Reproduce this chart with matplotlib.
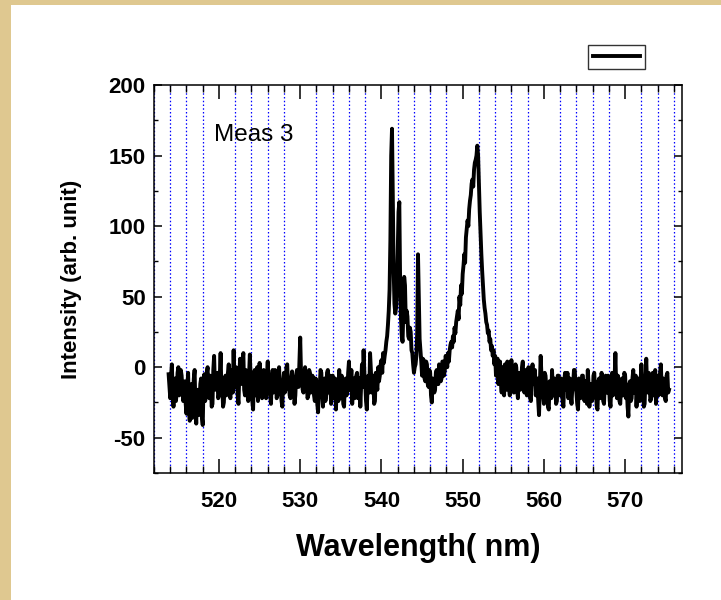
import matplotlib
matplotlib.use("Agg")
import matplotlib.pyplot as plt
import numpy as np
from matplotlib.patches import Rectangle
from matplotlib.ticker import MultipleLocator

plt.rcParams["font.family"] = ["Liberation Sans", "DejaVu Sans"]
plt.rcParams["axes.unicode_minus"] = False

# sampling grid of the spectrometer (nm)
WL_START = 513.8
WL_STEP = 0.1

# intensity, one row per 1 nm
intensity = [
    -5, -14, -22, -6, 2, -18, -28, -10, -8, -24,          # 513.8
    -18, -4, 0, -20, -14, -2, -6, -16, -24, -12,          # 514.8
    -10, -26, -33, -14, -4, -30, -38, -22, -12, -36,      # 515.8
    -20, -8, -2, -28, -40, -18, -16, -34, -30, -12,       # 516.8
    -8, -36, -41, -12, -5, -24, -18, -4, 0, -20,          # 517.8
    -22, -6, -10, -28, -26, -2, 8, -14, -16, -6,          # 518.8
    -4, -22, -20, -6, 10, -16, -12, -28, -25, -10,        # 519.8
    -6, -20, -18, -4, 2, -14, -22, -2, -8, -18,           # 520.8
    12, -10, -14, 0, -2, -20, -26, -6, 6, -12,            # 521.8
    -10, 4, 10, -16, -20, -2, -4, -18, -24, -6,           # 522.8
    9, -8, -12, -24, -30, -6, -2, -20, -16, 0,            # 523.8
    -24, -10, 3, -14, -8, -22, -18, -2, -5, -16,          # 524.8
    -22, -6, 4, -12, -10, -20, -26, -8, -2, -18,          # 525.8
    -14, -2, -6, -22, -20, -4, 0, -16, -12, -24,          # 526.8
    -28, -10, -4, -18, -16, 0, 2, -14, -10, -20,          # 527.8
    -22, -8, -3, -16, -12, -26, -20, -6, -2, -14,         # 528.8
    -14, 4, 21, -4, -6, -16, -18, -4, 0, -12,             # 529.8
    -10, -22, -20, -2, -4, -18, -16, -6, -8, -20,         # 530.8
    -24, -8, -10, -26, -32, -12, -14, -2, -4, -20,        # 531.8
    -28, -14, -8, -24, -20, -4, -2, -18, -16, -6,         # 532.8
    -26, -10, -6, -22, -18, -8, -30, -14, -10, -24,       # 533.8
    -2, -16, -22, -6, -12, -26, -28, -10, -8, -20,        # 534.8
    -18, -4, 4, -16, -14, -2, -26, -12, -8, -22,          # 535.8
    -20, -6, -4, -22, -16, -8, -28, -12, 2, -14,          # 536.8
    12, -4, -10, -24, -30, -12, -6, -18, 10, -2,          # 537.8
    -18, -6, -8, -26, -24, -4, -12, -16, 0, -10,          # 538.8
    -6, 2, 5, -4, 10, 3, 8, 12, 18, 22,                   # 539.8
    30, 40, 55, 90, 150, 169, 120, 70, 45, 38,            # 540.8
    42, 55, 80, 110, 117, 60, 35, 22, 18, 40,             # 541.8
    64, 58, 32, 40, 36, 22, 20, 28, 25, 12,               # 542.8
    10, 2, -4, 0, 2, 8, 24, 80, 50, 20,                   # 543.8
    12, 4, -6, 6, 5, -8, -10, 4, 2, -12,                  # 544.8
    -14, -2, -4, -20, -25, -8, -10, -18, -16, -4,         # 545.8
    -2, -10, -12, 2, 0, -10, -8, 4, 4, -6,                # 546.8
    -2, 8, 6, 0, 10, 4, 12, 16, 18, 14,                   # 547.8
    22, 18, 28, 24, 32, 36, 40, 34, 50, 44,               # 548.8
    58, 52, 66, 72, 80, 74, 92, 98, 104, 100,             # 549.8
    112, 118, 122, 130, 133, 128, 140, 145, 147, 150,     # 550.8
    157, 150, 130, 110, 95, 80, 68, 58, 48, 42,           # 551.8
    38, 32, 30, 24, 26, 18, 20, 12, 15, 8,                # 552.8
    12, 2, 8, -6, 2, 6, -12, -2, 4, -10,                  # 553.8
    -18, 0, -6, -20, 2, -10, -16, 4, -4, -14,             # 554.8
    -20, -4, 5, -12, -8, -18, -14, 2, 0, -16,             # 555.8
    -22, -4, -6, -16, -12, 0, 4, -14, -18, -2,            # 556.8
    -4, -20, -16, 0, -8, -22, -24, -6, 2, -12,            # 557.8
    -12, -2, -20, -10, -8, -24, -34, -12, 8, -6,          # 558.8
    -12, -20, -26, -4, -6, -16, -18, -28, -30, -10,       # 559.8
    -10, -22, -2, -16, -20, -8, -14, -26, -24, -6,        # 560.8
    -6, -18, -20, -8, -12, -24, -28, -10, -4, -16,        # 561.8
    -16, -4, -22, -12, -8, -20, -26, -14, -12, -2,        # 562.8
    -2, -14, -18, -26, -30, -8, -10, -22, -20, -6,        # 563.8
    -6, -18, -24, -10, -14, -26, -2, -12, -28, -16,       # 564.8
    -12, -24, -22, -6, -4, -18, -16, -28, -30, -10,       # 565.8
    -8, -22, -20, -4, -14, -24, -26, -10, -6, -18,        # 566.8
    -18, -6, -10, -24, -28, -12, -4, -20, -16, -8,        # 567.8
    10, -14, -22, -6, -12, -24, -26, -10, -8, -20,        # 568.8
    -20, -4, -6, -22, -14, -28, -35, -12, -10, -24,       # 569.8
    -22, -8, -2, -18, -16, -6, -28, -14, -8, -20,         # 570.8
    -24, -10, 2, -16, -12, -28, -26, -8, 6, -14,          # 571.8
    -18, -4, -8, -24, -22, -6, -4, -20, -14, -2,          # 572.8
    -26, -12, -6, -20, -18, -4, 2, -16, -20, -8,          # 573.8
    -10, -22, -24, -6, -4, -18, -16,                      # 574.8
]
wavelength = WL_START + WL_STEP * np.arange(len(intensity))

fig = plt.figure(figsize=(7.21, 6.0), dpi=100, facecolor="#dfc890")
# white sheet over the parchment background
fig.patches.append(Rectangle((11 / 721, 0), 1, 1 - 5 / 600, transform=fig.transFigure,
                             facecolor="white", edgecolor="none", zorder=-5))

ax = fig.add_axes([154 / 721, 127 / 600, 528 / 721, 388 / 600])
ax.set_zorder(2)
(line,) = ax.plot(wavelength, intensity, color="black", lw=2.8, zorder=3)

ax.set_xlim(512, 577)
ax.set_ylim(-75, 200)
ax.xaxis.set_major_locator(MultipleLocator(10))
ax.xaxis.set_minor_locator(MultipleLocator(2))
ax.yaxis.set_major_locator(MultipleLocator(50))
ax.yaxis.set_minor_locator(MultipleLocator(25))
ax.grid(which="minor", axis="x", color="#0000ff", linestyle=(0, (1.2, 1.8)), linewidth=0.9)

ax.tick_params(axis="x", which="major", direction="in", length=10, width=1.1,
               top=True, pad=13, labelsize=16)
ax.tick_params(axis="x", which="minor", direction="in", length=5, width=1.0, top=True)
ax.tick_params(axis="y", which="major", direction="in", length=6, width=1.1,
               right=True, pad=6, labelsize=16)
ax.tick_params(axis="y", which="minor", direction="in", length=3, width=1.0, right=True)
for lbl in ax.get_xticklabels() + ax.get_yticklabels():
    lbl.set_fontweight("bold")
for sp in ax.spines.values():
    sp.set_linewidth(1.1)

ax.set_xlabel("Wavelength( nm)", fontsize=22, fontweight="bold")
ax.xaxis.set_label_coords(0.5, -0.193)
ax.xaxis.label.set_va("center")
ax.set_ylabel("Intensity (arb. unit)", fontsize=16, fontweight="bold")
ax.yaxis.set_label_coords(-0.157, 0.5)
ax.yaxis.label.set_va("center")

ax.text(0.1136, 0.871, "Meas 3", transform=ax.transAxes, fontsize=17.5,
        ha="left", va="center")

leg = ax.legend(handles=[line], labels=[""], loc="upper right",
                bbox_to_anchor=(645 / 721, 1 - 45 / 600), bbox_transform=fig.transFigure,
                fontsize=10, handlelength=3.4, handletextpad=0, borderpad=0.35,
                borderaxespad=0, fancybox=False, frameon=True)
leg.get_frame().set_edgecolor("black")
leg.get_frame().set_linewidth(1.0)

fig.savefig("out.png", dpi=100, facecolor=fig.get_facecolor())
